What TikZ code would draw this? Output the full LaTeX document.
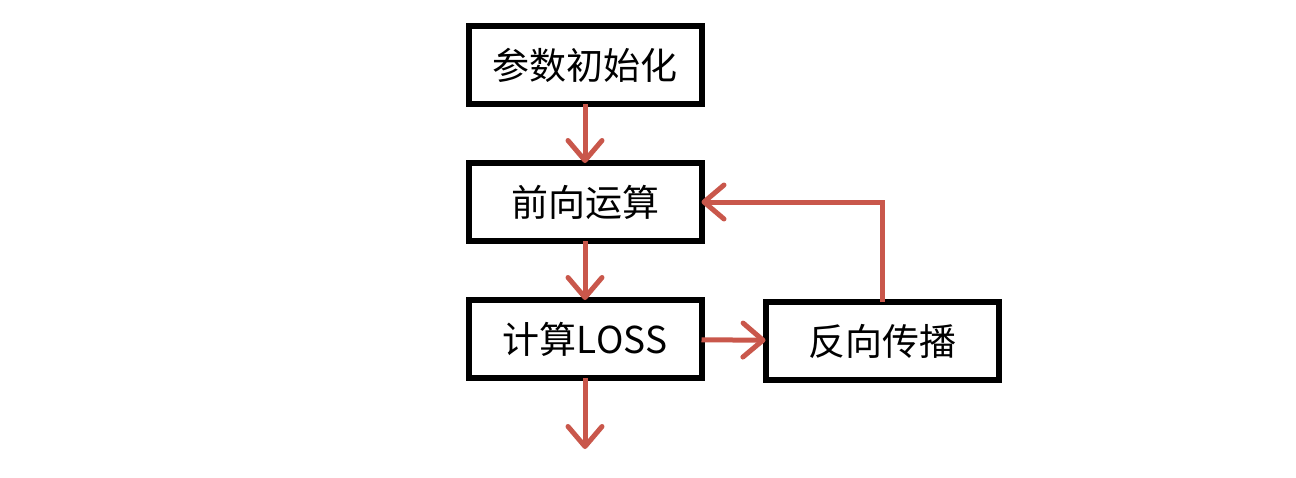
\documentclass[tikz,border=0pt]{standalone}
\usepackage{fontspec}
\setmainfont{Noto Sans CJK SC}
\usetikzlibrary{arrows.meta,positioning}
\definecolor{flowred}{RGB}{201,87,75}

\begin{document}
\begin{tikzpicture}[x=0.5pt, y=-0.5pt, node distance=29.5pt,
    every node/.style={font=\fontsize{18.5pt}{22pt}\selectfont},
    box/.style={draw, line width=3pt, minimum width=116.5pt, minimum height=39pt, inner sep=0pt, outer sep=0pt},
    flow/.style={draw=flowred, line width=2.5pt, -{Straight Barb[length=10pt,width=17pt,round]}}]
  \useasboundingbox (0,0) rectangle (1296,477);
  \node[box] (init) at (585,65) {参数初始化};
  \node[box, below=of init] (fwd) {前向运算};
  \node[box, below=of fwd] (loss) {计算LOSS};
  \node[box, right=32pt of loss, yshift=-1pt] (bp) {反向传播};
  \coordinate[below=35.5pt of loss] (out);

  \path[flow]
    (init) edge (fwd)
    (fwd) edge (loss)
    (loss) edge (bp)
    (loss) edge (out);
  \draw[flow] (bp) |- (fwd);
\end{tikzpicture}
\end{document}
